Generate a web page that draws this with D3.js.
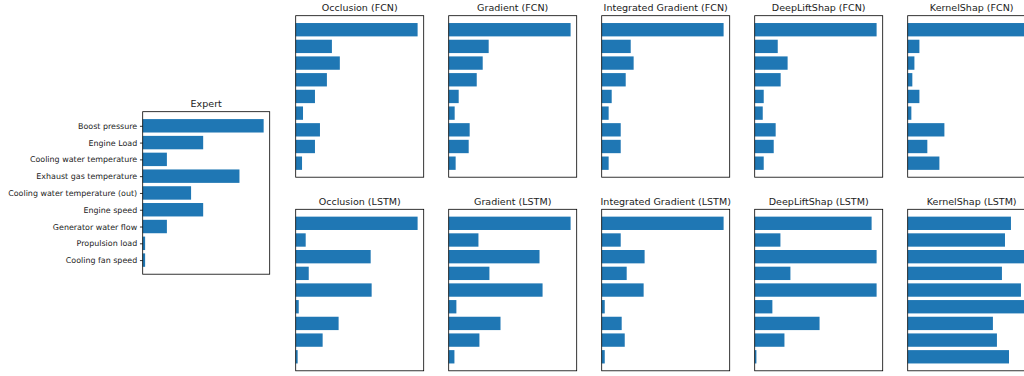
<!DOCTYPE html>
<html>
<head>
<meta charset="utf-8">
<script src="https://cdn.jsdelivr.net/npm/d3@7"></script>
<style>
  body { margin: 0; background: #fff; }
  svg { display: block; font-family: "DejaVu Sans", sans-serif; }
</style>
</head>
<body>
<svg id="chart" width="1024" height="376"></svg>
<script>
// feature names, top to bottom
var features = ["Boost pressure", "Engine Load", "Cooling water temperature",
  "Exhaust gas temperature", "Cooling water temperature (out)", "Engine speed",
  "Generator water flow", "Propulsion load", "Cooling fan speed"];

var expert = [1, 0.5, 0.2, 0.8, 0.4, 0.5, 0.2, 0.02, 0.02];

var methods = ["Occlusion", "Gradient", "Integrated Gradient", "DeepLiftShap", "KernelShap"];

// relative importance, one array per method (FCN)
var occlusionFCN  = [1, 0.297, 0.362, 0.256, 0.158, 0.060, 0.199, 0.158, 0.052];
var gradientFCN   = [1, 0.328, 0.279, 0.230, 0.082, 0.049, 0.172, 0.164, 0.057];
var intGradFCN    = [1, 0.238, 0.262, 0.197, 0.082, 0.057, 0.156, 0.156, 0.057];
var deepLiftFCN   = [1, 0.189, 0.270, 0.213, 0.074, 0.066, 0.172, 0.156, 0.074];
var kernelShapFCN = [1, 0.096, 0.055, 0.038, 0.096, 0.030, 0.301, 0.161, 0.260];

// same for LSTM
var occlusionLSTM  = [1, 0.082, 0.615, 0.107, 0.623, 0.025, 0.352, 0.221, 0.016];
var gradientLSTM   = [1, 0.244, 0.745, 0.334, 0.770, 0.063, 0.425, 0.252, 0.047];
var intGradLSTM    = [1, 0.156, 0.352, 0.205, 0.344, 0.025, 0.164, 0.189, 0.025];
var deepLiftLSTM   = [0.959, 0.211, 1, 0.293, 1, 0.145, 0.532, 0.244, 0.014];
var kernelShapLSTM = [0.847, 0.798, 0.97, 0.773, 0.929, 1, 0.699, 0.732, 0.831];

var fcnRows  = [occlusionFCN, gradientFCN, intGradFCN, deepLiftFCN, kernelShapFCN];
var lstmRows = [occlusionLSTM, gradientLSTM, intGradLSTM, deepLiftLSTM, kernelShapLSTM];

var svg = d3.select("#chart");
var barColor = "#1f77b4";
var fs = 7.95;

function panel(x0, y0, w, h, values, title, withLabels) {
  var g = svg.append("g").attr("transform", "translate(" + x0 + "," + y0 + ")");
  var n = values.length;
  var pad = 0.05 * (n - 1 + 0.8);
  var y = d3.scaleLinear().domain([-0.4 - pad, n - 1 + 0.4 + pad]).range([0, h]);
  var x = d3.scaleLinear().domain([0, d3.max(values) * 1.05]).range([0, w]);

  g.selectAll("rect.bar").data(values).enter().append("rect")
    .attr("class", "bar")
    .attr("x", x(0))
    .attr("y", function(d, i) { return y(i - 0.4); })
    .attr("width", function(d) { return x(d) - x(0); })
    .attr("height", y(0.8) - y(0))
    .attr("fill", barColor);

  g.append("rect")
    .attr("width", w).attr("height", h)
    .attr("fill", "none").attr("stroke", "#000").attr("stroke-width", 0.8);

  if (withLabels) {
    var axis = d3.axisLeft(y)
      .tickValues(d3.range(n))
      .tickFormat(function(i) { return features[i]; })
      .tickSize(2.75).tickPadding(2.75);
    var ax = g.append("g").call(axis);
    ax.select(".domain").remove();
    ax.selectAll("line").attr("stroke", "#000").attr("stroke-width", 0.8);
    ax.selectAll("text").attr("font-size", fs).attr("fill", "#222")
      .attr("font-family", "DejaVu Sans, sans-serif");
  }

  g.append("text")
    .attr("x", w / 2).attr("y", -4.6)
    .attr("text-anchor", "middle")
    .attr("font-size", fs * 1.2)
    .attr("fill", "#222")
    .text(title);
}

panel(142.7, 111.7, 127, 162.5, expert, "Expert", true);

methods.forEach(function(m, i) {
  var x0 = 295.7 + i * 153;
  panel(x0, 15.7, 128, 161.5, fcnRows[i], m + " (FCN)", false);
  panel(x0, 209.3, 128, 161.5, lstmRows[i], m + " (LSTM)", false);
});
</script>
</body>
</html>
